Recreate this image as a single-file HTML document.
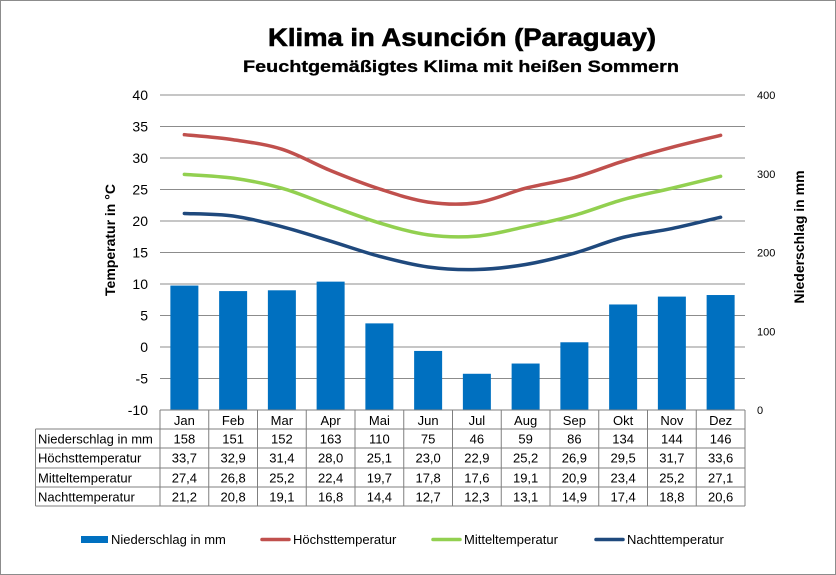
<!DOCTYPE html>
<html><head><meta charset="utf-8"><style>body{margin:0;background:#fff}svg{display:block}text{font-family:"Liberation Sans",Arial,sans-serif}</style></head>
<body>
<svg id="s" width="836" height="575" xmlns="http://www.w3.org/2000/svg">
<rect x="0.5" y="0.5" width="835" height="574" fill="#fff" stroke="#8c8c8c"/>
<text x="462" y="46" font-size="25" font-weight="bold" text-anchor="middle" textLength="388" lengthAdjust="spacingAndGlyphs" stroke="#000" stroke-width="0.6">Klima in Asunción (Paraguay)</text>
<text x="461" y="72" font-size="17" font-weight="bold" text-anchor="middle" textLength="436" lengthAdjust="spacingAndGlyphs" stroke="#000" stroke-width="0.3">Feuchtgemäßigtes Klima mit heißen Sommern</text>
<text transform="translate(115,240) rotate(-90)" font-size="14" font-weight="bold" text-anchor="middle">Temperatur in °C</text>
<text transform="translate(804,237) rotate(-90)" font-size="14" font-weight="bold" text-anchor="middle">Niederschlag in mm</text>
<g id="g"></g>
</svg>
<script>
var g=document.getElementById('g'),h='';
var pr=[158,151,152,163,110,75,46,59,86,134,144,146],
hi=[33.7,32.9,31.4,28.0,25.1,23.0,22.9,25.2,26.9,29.5,31.7,33.6],
mi=[27.4,26.8,25.2,22.4,19.7,17.8,17.6,19.1,20.9,23.4,25.2,27.1],
lo=[21.2,20.8,19.1,16.8,14.4,12.7,12.3,13.1,14.9,17.4,18.8,20.6],
mo=['Jan','Feb','Mar','Apr','Mai','Jun','Jul','Aug','Sep','Okt','Nov','Dez'];
var L=160,W=48.75,R=745;
function ty(t){return 95+(40-t)*6.3}
for(var t=40;t>=-10;t-=5){var y=ty(t);h+='<line x1="'+L+'" y1="'+y+'" x2="'+R+'" y2="'+y+'" stroke="#8c8c8c"/>';h+='<text x="148" y="'+(y+5)+'" font-size="14" text-anchor="end">'+t+'</text>';}
for(var p=0;p<=400;p+=100){h+='<text x="757" y="'+(410-p*0.7875+4)+'" font-size="11">'+p+'</text>';}
for(var i=0;i<12;i++){var cx=L+W*(i+.5),bh=pr[i]*0.7875;h+='<rect x="'+(cx-14)+'" y="'+(410-bh)+'" width="28" height="'+bh+'" fill="#0070c0"/>';}
function path(a,c){var P=a.map(function(v,i){return[L+W*(i+.5),ty(v)]});var d='M'+P[0];for(var i=0;i<P.length-1;i++){var p0=P[i-1]||P[i],p1=P[i],p2=P[i+1],p3=P[i+2]||p2;d+='C'+(p1[0]+(p2[0]-p0[0])/6)+','+(p1[1]+(p2[1]-p0[1])/6)+' '+(p2[0]-(p3[0]-p1[0])/6)+','+(p2[1]-(p3[1]-p1[1])/6)+' '+p2;}return '<path d="'+d+'" fill="none" stroke="'+c+'" stroke-width="3.5" stroke-linecap="round"/>';}
h+=path(hi,'#c0504d')+path(mi,'#92d050')+path(lo,'#1f497d');
var rows=[['Niederschlag in mm',pr],['Höchsttemperatur',hi],['Mitteltemperatur',mi],['Nachttemperatur',lo]];
var ys=[410,429,448,468,487,506];
h+='<g stroke="#7f7f7f" fill="none">';
for(var i=0;i<=12;i++){h+='<line x1="'+(L+W*i)+'" y1="410" x2="'+(L+W*i)+'" y2="506"/>';}
h+='<line x1="35.5" y1="429" x2="35.5" y2="506"/>';
h+='<line x1="'+L+'" y1="410" x2="'+R+'" y2="410"/>';
for(var k=1;k<6;k++)h+='<line x1="35.5" y1="'+ys[k]+'" x2="'+R+'" y2="'+ys[k]+'"/>';
h+='</g>';
for(var i=0;i<12;i++)h+='<text x="'+(L+W*(i+.5))+'" y="425" font-size="13" text-anchor="middle">'+mo[i]+'</text>';
rows.forEach(function(r,k){var y=ys[k+1]+14.5;h+='<text x="38" y="'+y+'" font-size="13">'+r[0]+'</text>';r[1].forEach(function(v,i){var s=k==0?String(v):v.toFixed(1).replace('.',',');h+='<text x="'+(L+W*(i+.5))+'" y="'+y+'" font-size="13" text-anchor="middle">'+s+'</text>';});});
h+='<rect x="81" y="536" width="27" height="7" fill="#0070c0"/><text x="111" y="544" font-size="13">Niederschlag in mm</text>';
[[262,'#c0504d','Höchsttemperatur'],[433,'#92d050','Mitteltemperatur'],[596,'#1f497d','Nachttemperatur']].forEach(function(e){h+='<line x1="'+e[0]+'" y1="539.5" x2="'+(e[0]+27)+'" y2="539.5" stroke="'+e[1]+'" stroke-width="3.5" stroke-linecap="round"/><text x="'+(e[0]+31)+'" y="544" font-size="13">'+e[2]+'</text>';});
g.innerHTML=h;
</script>
</body></html>
